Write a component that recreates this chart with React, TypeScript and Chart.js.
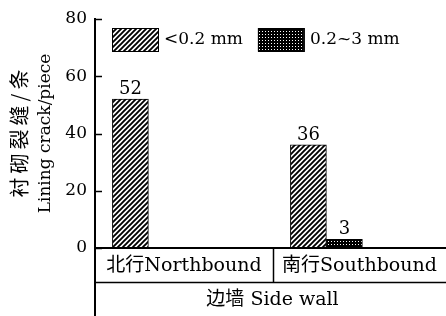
import React, { useEffect, useRef } from 'react';
import { Chart, registerables } from 'chart.js';

Chart.register(...registerables);

// ---- data ----
const categories = ['北行Northbound', '南行Southbound'];
const groupLabel = '边墙 Side wall';
const seriesNames = ['<0.2 mm', '0.2~3 mm'];
const fineCracks = [52, 36];
const wideCracks = [0, 3];
const yTicks = [0, 20, 40, 60, 80];
const yTitleCn = '衬砌裂缝/条';
const yTitleEn = 'Lining crack/piece';

const FONT_FAMILY = '"DejaVu Serif", "Noto Sans CJK SC", serif';
const CJK_FAMILY = '"Noto Sans CJK SC", "DejaVu Serif", serif';
const W = 446;
const H = 316;

function makeHatch(): CanvasPattern | string {
  const n = 5;
  const c = document.createElement('canvas');
  c.width = n;
  c.height = n;
  const g = c.getContext('2d');
  if (!g) return '#888';
  g.fillStyle = '#fff';
  g.fillRect(0, 0, n, n);
  g.strokeStyle = '#000';
  g.lineWidth = 1.9;
  g.beginPath();
  g.moveTo(-1, n + 1);
  g.lineTo(n + 1, -1);
  g.moveTo(-2, 2);
  g.lineTo(2, -2);
  g.moveTo(n - 2, n + 2);
  g.lineTo(n + 2, n - 2);
  g.stroke();
  return g.createPattern(c, 'repeat') || '#888';
}

function makeDots(): CanvasPattern | string {
  const c = document.createElement('canvas');
  c.width = 3;
  c.height = 3;
  const g = c.getContext('2d');
  if (!g) return '#333';
  g.fillStyle = '#000';
  g.fillRect(0, 0, 3, 3);
  g.fillStyle = '#fff';
  g.fillRect(1, 1, 1, 1);
  return g.createPattern(c, 'repeat') || '#333';
}

const decorPlugin = {
  id: 'decor',
  afterDraw(chart: any) {
    const { ctx, chartArea, scales } = chart;
    const y = scales.y;
    const x = scales.x;
    const left = chartArea.left;
    const right = W;
    const bottom = chartArea.bottom;
    ctx.save();
    ctx.strokeStyle = '#000';
    ctx.fillStyle = '#000';

    // inward tick marks
    ctx.lineWidth = 1.5;
    yTicks.forEach((v) => {
      const py = Math.round(y.getPixelForValue(v)) + 0.5;
      ctx.beginPath();
      ctx.moveTo(left, py);
      ctx.lineTo(left + 7, py);
      ctx.stroke();
    });

    // y axis extension down to the bottom
    ctx.lineWidth = 2;
    ctx.beginPath();
    ctx.moveTo(left, bottom);
    ctx.lineTo(left, H);
    ctx.stroke();

    // x axis line
    ctx.beginPath();
    ctx.moveTo(left, bottom);
    ctx.lineTo(right, bottom);
    ctx.stroke();

    // second row line
    const rowY = bottom + 34.5;
    ctx.lineWidth = 1.5;
    ctx.beginPath();
    ctx.moveTo(left, rowY);
    ctx.lineTo(right, rowY);
    ctx.stroke();

    // category dividers and labels
    ctx.font = `19px ${FONT_FAMILY}`;
    ctx.textAlign = 'center';
    ctx.textBaseline = 'middle';
    categories.forEach((name, i) => {
      const x0 = Math.max(left, x.getPixelForValue(i + 0.7));
      const x1 = Math.min(right, x.getPixelForValue(i + 1.7));
      if (i > 0) {
        ctx.beginPath();
        ctx.moveTo(Math.round(x0) + 0.5, bottom);
        ctx.lineTo(Math.round(x0) + 0.5, rowY);
        ctx.stroke();
      }
      ctx.fillText(name, (x0 + x1) / 2, bottom + 18);
    });
    ctx.fillText(groupLabel, (left + right) / 2 + 2, bottom + 52);

    // value labels
    ctx.font = `18px ${FONT_FAMILY}`;
    ctx.textBaseline = 'alphabetic';
    chart.data.datasets.forEach((ds: any, di: number) => {
      const meta = chart.getDatasetMeta(di);
      meta.data.forEach((el: any, i: number) => {
        const v = ds.data[i].y;
        if (!v) return;
        ctx.fillText(String(v), el.x, el.y - 5);
      });
    });

    // legend
    ctx.font = `17px ${FONT_FAMILY}`;
    let lx = left + 17;
    const ly = chartArea.top + 9;
    ctx.textAlign = 'left';
    ctx.textBaseline = 'middle';
    chart.data.datasets.forEach((ds: any) => {
      ctx.fillStyle = ds.backgroundColor;
      ctx.fillRect(lx, ly, 46, 23);
      ctx.lineWidth = 1;
      ctx.strokeStyle = '#000';
      ctx.strokeRect(lx + 0.5, ly + 0.5, 46, 23);
      ctx.fillStyle = '#000';
      ctx.fillText(ds.label, lx + 52, ly + 12);
      lx += 52 + ctx.measureText(ds.label).width + 15;
    });

    // y axis title (two rotated lines)
    const cy = (chartArea.top + chartArea.bottom) / 2;
    ctx.save();
    ctx.translate(19, cy);
    ctx.rotate(-Math.PI / 2);
    ctx.textAlign = 'center';
    ctx.textBaseline = 'middle';
    ctx.font = `20px ${CJK_FAMILY}`;
    try { (ctx as any).letterSpacing = '4px'; } catch (e) { /* ignore */ }
    ctx.fillText(yTitleCn, 2, 0);
    ctx.restore();
    ctx.save();
    ctx.translate(46, cy);
    ctx.rotate(-Math.PI / 2);
    ctx.textAlign = 'center';
    ctx.textBaseline = 'middle';
    ctx.font = `17px ${FONT_FAMILY}`;
    ctx.fillText(yTitleEn, 0, 0);
    ctx.restore();

    ctx.restore();
  },
};

export default function App() {
  const ref = useRef<HTMLCanvasElement | null>(null);
  useEffect(() => {
    document.body.style.margin = '0';
    const canvas = ref.current;
    if (!canvas) return;
    const hatch = makeHatch();
    const dots = makeDots();
    const xs = categories.map((_, i) => i + 1);
    const chart = new Chart(canvas, {
      type: 'bar',
      data: {
        datasets: [
          {
            label: seriesNames[0],
            data: fineCracks.map((v, i) => ({ x: xs[i], y: v })),
            backgroundColor: hatch as any,
            borderColor: '#000',
            borderWidth: 1,
            barThickness: 36,
          },
          {
            label: seriesNames[1],
            data: wideCracks.map((v, i) => ({ x: xs[i], y: v })),
            backgroundColor: dots as any,
            borderColor: '#000',
            borderWidth: 1,
            barThickness: 36,
          },
        ],
      },
      options: {
        animation: false,
        responsive: false,
        maintainAspectRatio: false,
        layout: { padding: { top: 19, right: 0, bottom: 68, left: 0 } },
        plugins: { legend: { display: false }, tooltip: { enabled: false } },
        scales: {
          x: {
            type: 'linear',
            min: 0.7,
            max: 0.7 + 351 / 178,
            offset: false,
            display: false,
          },
          y: {
            min: 0,
            max: 80,
            afterBuildTicks: (s: any) => {
              s.ticks = yTicks.map((v) => ({ value: v }));
            },
            afterFit: (s: any) => {
              s.width = 95;
            },
            ticks: {
              color: '#000',
              padding: 8,
              font: { family: FONT_FAMILY, size: 17 },
            },
            grid: { display: false, drawTicks: false },
            border: { display: true, color: '#000', width: 2 },
            title: { display: false },
          },
        },
      },
      plugins: [decorPlugin],
    } as any);
    return () => chart.destroy();
  }, []);
  return (
    <div style={{ position: 'fixed', left: 0, top: 0, width: W, height: H, background: '#fff' }}>
      <canvas ref={ref} width={W} height={H} style={{ width: W, height: H, display: 'block' }} />
    </div>
  );
}
